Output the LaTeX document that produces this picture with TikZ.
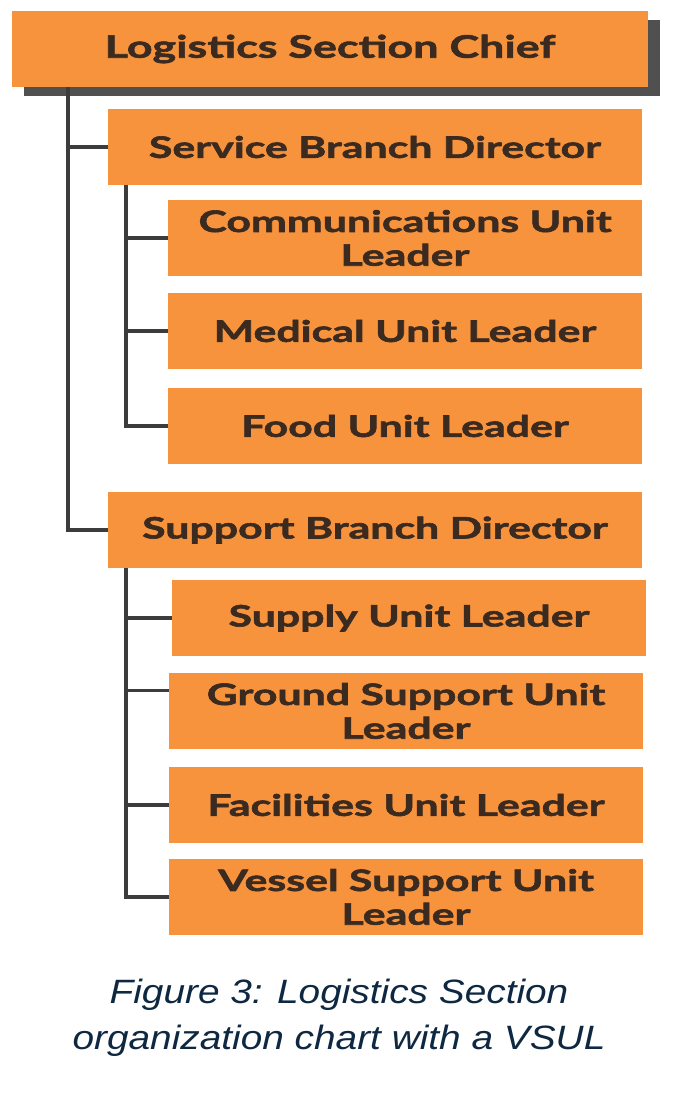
\documentclass[tikz,border=0pt]{standalone}
\usepackage{fontspec}
\setmainfont{Lato}
\newfontfamily\boxfont{Lato}[FakeStretch=1.45, BoldFeatures={FakeBold=2}]
\newfontfamily\capfont{Liberation Sans}[FakeStretch=1.15]
\usetikzlibrary{shadows}
\definecolor{boxorange}{HTML}{F7933C}
\definecolor{boxtext}{HTML}{3A2A20}
\definecolor{linegray}{HTML}{3C3C3C}
\definecolor{capblue}{HTML}{0E2841}
\tikzset{
  unitbox/.style={rectangle, fill=boxorange, text=boxtext, align=center,
    minimum width=11.85cm, minimum height=1.9cm, inner sep=0pt,
    font=\boxfont\bfseries\fontsize{21}{24}\selectfont},
  branchbox/.style={unitbox, minimum width=13.35cm},
  link/.style={draw=linegray, line width=2.4pt}
}
\begin{document}
\begin{tikzpicture}[x=0.025cm,y=-0.025cm]
        \useasboundingbox (0,0) rectangle (678,1097);

        % Chief with its shadow
        \node[unitbox, minimum width=15.9cm, font=\boxfont\bfseries\fontsize{22}{24}\selectfont,
          drop shadow={shadow xshift=0.3cm, shadow yshift=-0.22cm, fill=linegray!90, opacity=1}]
          (chief) at (330,49) {Logistics Section Chief};

        % Branch directors
        \node[branchbox] (serv) at (375,147) {Service Branch Director};
        \node[branchbox] (supp) at (375,530) {Support Branch Director};

        % Units of the service branch
        \node[unitbox] (comm) at (405,238) {Communications Unit\\Leader};
        \node[unitbox] (med) at (405,331) {Medical Unit Leader};
        \node[unitbox] (food) at (405,426) {Food Unit Leader};

        % Units of the support branch
        \node[unitbox] (suply) at (409,618) {Supply Unit Leader};
        \node[unitbox] (ground) at (406,711) {Ground Support Unit\\Leader};
        \node[unitbox] (fac) at (406,805) {Facilities Unit Leader};
        \node[unitbox] (vessel) at (406,897) {Vessel Support Unit\\Leader};

        % Stems
        \coordinate (t1) at (68,87);
        \coordinate (t2) at (126,185);
        \coordinate (t3) at (126,568);

        % Connectors
        \draw[link] (t1) |- (serv.west);
        \draw[link] (t1) |- (supp.west);
        \draw[link] (t2) |- (comm.west);
        \draw[link] (t2) |- (med.west);
        \draw[link] (t2) |- (food.west);
        \draw[link] (t3) |- (suply.west);
        \draw[link] (t3) |- (ground.175);
        \draw[link] (t3) |- (fac.west);
        \draw[link] (t3) |- (vessel.west);

        % Caption
        \node[text=capblue, align=center, font=\capfont\itshape\fontsize{24}{33}\selectfont]
          (cap) at (339,1018) {Figure 3: Logistics Section\\organization chart with a VSUL};
      \end{tikzpicture}
\end{document}
